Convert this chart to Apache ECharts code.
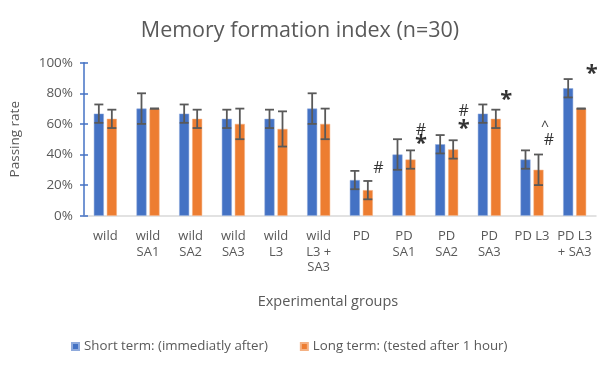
<!DOCTYPE html>
<html><head><meta charset="utf-8">
<script src="https://cdn.jsdelivr.net/npm/echarts@6/dist/echarts.min.js"></script>
<style>html,body{margin:0;padding:0;background:#fff}#c{width:600px;height:368px}</style>
</head><body><div id="c"></div>
<script>
const categories = ['wild','wild\nSA1','wild\nSA2','wild\nSA3','wild\nL3','wild\nL3 +\nSA3','PD','PD\nSA1','PD\nSA2','PD\nSA3','PD L3','PD L3\n+ SA3'];
const shortTerm = [66.7,70,66.7,63.3,63.3,70,23.3,40,46.7,66.7,36.7,83.3];
const shortErr  = [6,10,6,6,6,10,6,10,6,6,6,6];
const longTerm  = [63.3,70,63.3,60,56.7,60,16.7,36.7,43.3,63.3,30,70];
const longErr   = [6,0,6,10,11.5,10,6,6,6,6,10,0];
const hashMarks  = [null,null,null,null,null,null,31,55.6,68.2,null,49,null];
const starMarks  = [null,null,null,null,null,null,null,47,57,75.6,null,93];
const caretMarks = [null,null,null,null,null,null,null,null,null,null,57.8,null];
const yTicks = [0,20,40,60,80,100];

const chart = echarts.init(document.getElementById('c'));
const txt = '#595959';
const font = 'Open Sans';
const BW = 10, GAP = 3;

function errSeries(vals, errs, side){
  return {
    type:'custom', z:5,
    data: vals.map((v,i)=>[i,v,errs[i]]),
    renderItem(params, api){
      const i = api.value(0), v = api.value(1), e = api.value(2);
      const c = api.coord([i, v]);
      const x = c[0] + side*(BW+GAP)/2;
      const top = api.coord([i, v+e])[1];
      const bot = api.coord([i, v-e])[1];
      const w = 4.5;
      const st = {stroke:'#595959', lineWidth:1.8};
      return {type:'group', children:[
        {type:'line', shape:{x1:x,y1:top,x2:x,y2:bot}, style:st},
        {type:'line', shape:{x1:x-w,y1:top,x2:x+w,y2:top}, style:st},
        {type:'line', shape:{x1:x-w,y1:bot,x2:x+w,y2:bot}, style:st}
      ]};
    }
  };
}
function annot(vals, text, size, dx){
  return {
    type:'scatter', symbolSize:0, z:6, silent:true,
    data: vals.map((v,i)=> v==null ? '-' : [i,v]),
    label:{show:true, position:'inside', formatter:text, offset:[dx,0],
      fontSize:size, color:'#000', fontFamily:font, fontWeight: text==='*'?'bold':'normal'}
  };
}

chart.setOption({
  animation:false,
  title:{text:'Memory formation index (n=30)', left:'center', top:15,
    textStyle:{fontFamily:font, fontSize:21.5, fontWeight:'normal', color:txt}},
  legend:{bottom:10, left:66, itemWidth:7, itemHeight:7, itemGap:32, icon:'rect',
    textStyle:{fontFamily:font, fontSize:13.3, color:txt},
    data:['Short term: (immediatly after)','Long term: (tested after 1 hour)']},
  grid:{left:79, right:4, top:62.7, bottom:152.3},
  xAxis:{type:'category', data:categories,
    axisLine:{lineStyle:{color:'#d9d9d9', width:1.5}}, axisTick:{show:false},
    axisLabel:{color:txt, fontFamily:font, fontSize:13, lineHeight:15.5, margin:13, interval:0},
    name:'Experimental groups', nameLocation:'middle', nameGap:79,
    nameTextStyle:{color:txt, fontFamily:font, fontSize:14.5, padding:[0,24,0,0]}},
  yAxis:[{type:'value', min:0, max:100, interval:20,
    axisLine:{show:true, lineStyle:{color:'#4472C4', width:1.5}},
    axisTick:{show:true, length:4, lineStyle:{color:'#4472C4', width:1.5}},
    splitLine:{show:false},
    axisLabel:{color:txt, fontFamily:font, fontSize:13.5, margin:11, formatter: v => v+'%'},
    name:'Passing rate', nameLocation:'middle', nameGap:62,
    nameTextStyle:{color:txt, fontFamily:font, fontSize:13.5}},
   {type:'value', min:0, max:100, interval:20, position:'left',
    axisLine:{show:false}, axisTick:{show:true, inside:true, length:4, lineStyle:{color:'#4472C4', width:1.5}},
    axisLabel:{show:false}, splitLine:{show:false}}],
  series:[
    {name:'Short term: (immediatly after)', type:'bar', data:shortTerm, barWidth:BW, barGap:'30%',
      itemStyle:{color:'#4472C4', borderColor:'#8faadc', borderWidth:0.5}},
    {name:'Long term: (tested after 1 hour)', type:'bar', data:longTerm, barWidth:BW, barGap:'30%',
      itemStyle:{color:'#ED7D31', borderColor:'#f4b183', borderWidth:0.5}},
    errSeries(shortTerm, shortErr, -1),
    errSeries(longTerm, longErr, 1),
    annot(hashMarks, '#', 16, 17),
    annot(starMarks, '*', 22, 17),
    annot(caretMarks, '^', 14, 13)
  ]
});
</script></body></html>
